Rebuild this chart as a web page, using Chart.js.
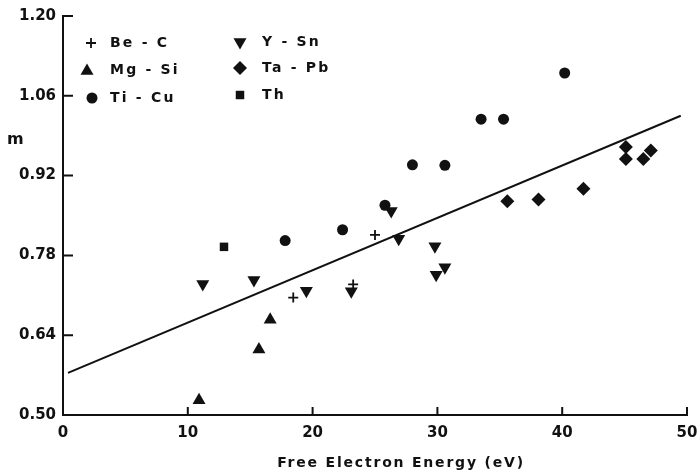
<!DOCTYPE html>
<html>
<head>
<meta charset="utf-8">
<script src="https://cdn.jsdelivr.net/npm/chart.js@4"></script>
<style>
  body { margin: 0; background: #fff; }
  canvas { display: block; }
</style>
</head>
<body>
<canvas id="grafico" width="698" height="470"></canvas>
<script>
// Valores (energia do elétron livre em eV, m)
const beCX = [18.45, 23.25, 25.0];
const beCY = [0.706, 0.729, 0.816];

const mgSiX = [10.9, 15.7, 16.6];
const mgSiY = [0.526, 0.615, 0.667];

const tiCuX = [17.8, 22.4, 25.8, 28.0, 30.6, 33.5, 35.3, 40.2];
const tiCuY = [0.806, 0.825, 0.868, 0.939, 0.938, 1.019, 1.019, 1.100];

const ySnX = [11.2, 15.3, 19.5, 23.1, 26.3, 26.9, 29.8, 29.9, 30.6];
const ySnY = [0.730, 0.737, 0.718, 0.717, 0.858, 0.809, 0.796, 0.746, 0.759];

const taPbX = [35.6, 38.1, 41.7, 45.1, 45.1, 46.5, 47.1];
const taPbY = [0.875, 0.878, 0.897, 0.970, 0.949, 0.949, 0.964];

const thX = [12.9];
const thY = [0.795];

// Reta ajustada
const fitX = [0.4, 49.5];
const fitY = [0.574, 1.025];

// Rótulos dos eixos
const xTicks = [0, 10, 20, 30, 40, 50];
const yTicks = [0.50, 0.64, 0.78, 0.92, 1.06, 1.20];

const legendLabels = ['Be - C', 'Mg - Si', 'Ti - Cu', 'Y - Sn', 'Ta - Pb', 'Th'];

const INK = '#111';
const FONT = '"DejaVu Sans", sans-serif';

function pontos(xs, ys) {
    return xs.map((x, i) => ({ x: x, y: ys[i] }));
}

// Estilos dos marcadores (mesma ordem da legenda)
const marcadores = [
    { pointStyle: 'cross', radius: 5, rotation: 0, borderWidth: 1.8 },
    { pointStyle: 'triangle', radius: 7.5, rotation: 0, borderWidth: 0 },
    { pointStyle: 'circle', radius: 5.5, rotation: 0, borderWidth: 0 },
    { pointStyle: 'triangle', radius: 7.5, rotation: 180, borderWidth: 0 },
    { pointStyle: 'rectRot', radius: 7, rotation: 0, borderWidth: 0 },
    { pointStyle: 'rect', radius: 6, rotation: 0, borderWidth: 0 }
];

const series = [
    pontos(beCX, beCY),
    pontos(mgSiX, mgSiY),
    pontos(tiCuX, tiCuY),
    pontos(ySnX, ySnY),
    pontos(taPbX, taPbY),
    pontos(thX, thY)
];

const datasets = series.map((dados, i) => ({
    type: 'scatter',
    label: legendLabels[i],
    data: dados,
    pointStyle: marcadores[i].pointStyle,
    pointRadius: marcadores[i].radius,
    pointRotation: marcadores[i].rotation,
    pointBorderWidth: marcadores[i].borderWidth,
    backgroundColor: INK,
    borderColor: INK,
    pointHoverRadius: marcadores[i].radius
}));

datasets.push({
    type: 'line',
    label: 'ajuste',
    data: pontos(fitX, fitY),
    borderColor: INK,
    borderWidth: 2,
    pointRadius: 0,
    fill: false
});

// Desenha eixos, marcas internas, legenda e rótulos
const decoracao = {
    id: 'decoracao',
    afterDraw(chart) {
        const { ctx, chartArea, scales } = chart;
        const sx = scales.x, sy = scales.y;
        const left = chartArea.left, bottom = chartArea.bottom;
        ctx.save();
        ctx.strokeStyle = INK;
        ctx.fillStyle = INK;
        ctx.lineWidth = 2;
        ctx.lineCap = 'butt';

        // eixos
        ctx.beginPath();
        ctx.moveTo(left, sy.getPixelForValue(yTicks[yTicks.length - 1]) - 1);
        ctx.lineTo(left, bottom);
        ctx.lineTo(sx.getPixelForValue(xTicks[xTicks.length - 1]) + 1, bottom);
        ctx.stroke();

        // marcas para dentro
        ctx.beginPath();
        xTicks.forEach(v => {
            const px = sx.getPixelForValue(v);
            ctx.moveTo(px, bottom);
            ctx.lineTo(px, bottom - 8);
        });
        yTicks.forEach(v => {
            const py = sy.getPixelForValue(v);
            ctx.moveTo(left, py);
            ctx.lineTo(left + 10, py);
        });
        ctx.stroke();

        // legenda em duas colunas
        const posMarc = [[91, 43], [87, 71], [92, 98], [240, 42], [240, 68], [240, 95]];
        const posTexto = [[110, 43], [110, 70], [110, 98], [262, 42], [262, 68], [262, 95]];
        legendLabels.forEach((txt, i) => {
            const m = marcadores[i];
            const [mx, my] = posMarc[i];
            ctx.lineWidth = m.borderWidth || 1;
            if (Chart.helpers && Chart.helpers.drawPoint) {
                Chart.helpers.drawPoint(ctx, {
                    pointStyle: m.pointStyle,
                    radius: m.radius,
                    rotation: m.rotation,
                    borderWidth: m.borderWidth
                }, mx, my);
            } else {
                ctx.beginPath();
                ctx.arc(mx, my, 5, 0, Math.PI * 2);
                ctx.fill();
            }
            ctx.font = 'bold 14px ' + FONT;
            ctx.letterSpacing = '2.2px';
            ctx.textAlign = 'left';
            ctx.textBaseline = 'middle';
            ctx.fillText(txt, posTexto[i][0], posTexto[i][1]);
        });

        // rótulo do eixo y (horizontal)
        ctx.letterSpacing = '0px';
        ctx.font = 'bold 16px ' + FONT;
        ctx.textBaseline = 'alphabetic';
        ctx.fillText('m', 7, 144);

        // rótulo do eixo x
        ctx.letterSpacing = '1.8px';
        ctx.font = 'bold 14px ' + FONT;
        ctx.textAlign = 'center';
        ctx.fillText('Free Electron Energy (eV)', 401, 467);
        ctx.restore();
    }
};

window.addEventListener('DOMContentLoaded', () => {
    const ctx = document.getElementById('grafico').getContext('2d');
    new Chart(ctx, {
        data: { datasets: datasets },
        options: {
            responsive: false,
            animation: false,
            layout: { padding: { top: 15, right: 11, left: 0, bottom: 0 } },
            plugins: {
                legend: { display: false },
                tooltip: { enabled: false }
            },
            scales: {
                x: {
                    type: 'linear',
                    min: 0,
                    max: 50,
                    grid: { display: false, drawTicks: false },
                    border: { display: false },
                    afterBuildTicks: s => { s.ticks = xTicks.map(v => ({ value: v })); },
                    afterFit: s => { s.height = 55; s.paddingLeft = 0; s.paddingRight = 0; },
                    ticks: {
                        padding: 9,
                        color: INK,
                        font: { family: FONT, size: 15, weight: 'bold' },
                        callback: v => String(v),
                        maxRotation: 0
                    }
                },
                y: {
                    type: 'linear',
                    min: 0.50,
                    max: 1.20,
                    grid: { display: false, drawTicks: false },
                    border: { display: false },
                    afterBuildTicks: s => { s.ticks = yTicks.map(v => ({ value: v })); },
                    afterFit: s => { s.width = 63; },
                    ticks: {
                        padding: 7,
                        color: INK,
                        font: { family: FONT, size: 15, weight: 'bold' },
                        callback: v => Number(v).toFixed(2)
                    }
                }
            }
        },
        plugins: [decoracao]
    });
});
</script>
</body>
</html>
